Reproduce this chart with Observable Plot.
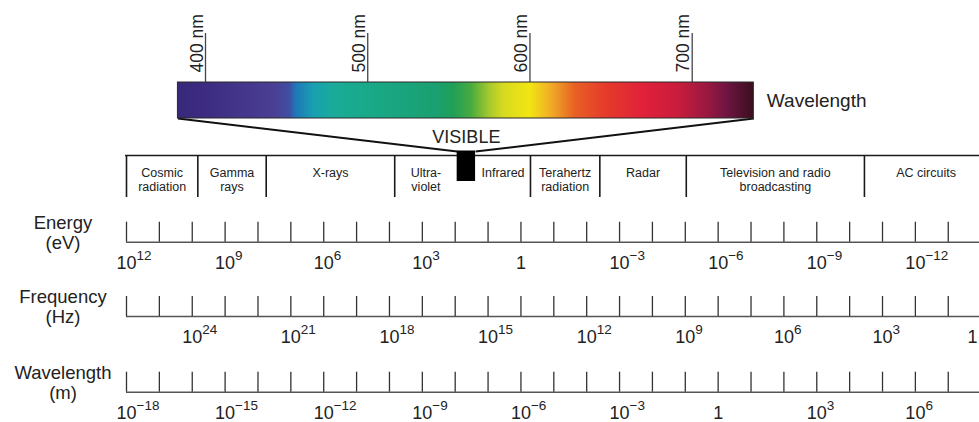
<!DOCTYPE html>
<html><head><meta charset="utf-8">
<script src="https://cdn.jsdelivr.net/npm/d3@7"></script>
<script src="https://cdn.jsdelivr.net/npm/@observablehq/plot@0.6"></script>
<style>
html,body{margin:0;padding:0;background:#fff;}
#chart{position:relative;width:979px;height:422px;overflow:hidden;}
#chart svg{position:absolute;left:0;top:0;}
</style></head><body><div id="chart"></div>
<script>
// ---------- data ----------
const nmTicks = [400, 500, 600, 700];
const spectrumRange = [383, 738];               // nm shown in the colour bar
const spectrumStopsNm = [383, 398, 443, 452, 456, 467, 479, 507, 543, 553, 564, 575, 584, 600, 614, 628, 646, 671, 692, 710, 722, 738];
const spectrumStopsColor = ["#38287a", "#3c2b80", "#4a3f93", "#3f4fa2", "#1f78b8", "#18a0b0", "#19ab98", "#19a885", "#1aa070", "#20a058", "#48aa40", "#a5c82c", "#d8da20", "#f2e612", "#f0a828", "#e86024", "#e53c2a", "#e0203a", "#c81c3c", "#981840", "#6e1442", "#3a0e1e"];

const bandNames = ["Cosmic\nradiation", "Gamma\nrays", "X-rays", "Ultra-\nviolet", "Infrared", "Terahertz\nradiation", "Radar", "Television and radio\nbroadcasting", "AC circuits"];
const bandStart = [12, 9.83, 7.75, 3.84, 1.38, -0.29, -2.40, -5.03, -10.45];   // log10(E / eV)
const bandEnd   = [9.83, 7.75, 3.84, 1.94, -0.29, -2.40, -5.03, -10.45, -14.2];
const separators = [12, 9.83, 7.75, 3.84, -0.29, -2.40, -5.03, -10.45];
const visibleBand = [1.94, 1.38];

const decadeTicks = [12, 11, 10, 9, 8, 7, 6, 5, 4, 3, 2, 1, 0, -1, -2, -3, -4, -5, -6, -7, -8, -9, -10, -11, -12, -13];
const energyExp = [12, 9, 6, 3, 0, -3, -6, -9, -12];
const frequencyExp = [24, 21, 18, 15, 12, 9, 6, 3, 0];
const wavelengthExp = [-18, -15, -12, -9, -6, -3, 0, 3, 6];
const rowNames = ["Energy\n(eV)", "Frequency\n(Hz)", "Wavelength\n(m)"];

// conversions to log10(E/eV)
const fromEnergy = n => n;
const fromFrequency = n => n - 14;   // E = h·ν
const fromWavelength = m => -6 - m;  // E = h·c / λ

// ---------- layout ----------
const W = 979, H = 422;
const FONT = "Liberation Sans, Arial, Helvetica, sans-serif";
const rowAxisY = [241.7, 316, 391.7];
const xE = {domain: [12, -13], range: [126, 126 + 25 * 32.87]};
const xN = {domain: [400, 700], range: [205, 691.7]};
const sE = Plot.scale({x: xE});
const sN = Plot.scale({x: xN});
const nmOf = e => sN.invert(sE.apply(e));

const rows = rowNames.map((name, i) => ({name, y: rowAxisY[i]}));
const ticks = rows.flatMap(r => decadeTicks.map(e => ({e, y: r.y})));
const fmt = n => (n < 0 ? "\u2212" : "") + Math.abs(n);
const labelSets = [[energyExp, fromEnergy], [frequencyExp, fromFrequency], [wavelengthExp, fromWavelength]];
const labels = labelSets.flatMap(([exps, f], i) => exps.map(n => ({
  pos: f(n), y: rowAxisY[i], base: n === 0 ? "1" : "10", sup: n === 0 ? "" : fmt(n)
})));
const inside = d => sE.apply(d.pos) + 6 <= W;
const bands = bandNames.map((name, i) => ({name, start: bandStart[i], end: bandEnd[i]}));

const common = {width: W, height: H, margin: 0, y: {domain: [0, H], range: [0, H], axis: null},
  style: {background: "transparent", fontFamily: FONT, overflow: "hidden"}};

const plotBottom = Plot.plot({
  ...common,
  x: {...xE, axis: null},
  marks: [
    // band header
    Plot.ruleY([155], {x1: 12.03, x2: -14.5, stroke: "#1a1a1a", strokeWidth: 1.6}),
    Plot.ruleX(separators, {x: d => d, y1: 155, y2: 197, stroke: "#1a1a1a", strokeWidth: 1.6}),
    Plot.rect([visibleBand], {x1: d => d[0], x2: d => d[1], y1: 150.5, y2: 181, fill: "#000"}),
    Plot.text(bands, {x: d => (d.start + d.end) / 2, y: 167, text: "name", fontSize: 12.5, lineAnchor: "top", lineHeight: 1.12, fill: "#222", fontFamily: FONT}),
    Plot.text(["VISIBLE"], {x: (visibleBand[0] + visibleBand[1]) / 2, y: 142, text: d => d, fontSize: 18, lineAnchor: "bottom", fill: "#222", fontFamily: FONT}),
    // axes
    Plot.ruleY(rows, {y: "y", x1: 12, x2: -14.5, stroke: "#555", strokeWidth: 1.5}),
    Plot.ruleX(ticks, {x: "e", y1: d => d.y - 20, y2: d => d.y, stroke: "#333", strokeWidth: 1.3}),
    Plot.text(labels.filter(inside), {x: "pos", y: d => d.y + 26.5, text: "base", fontSize: 18, textAnchor: "middle", lineAnchor: "bottom", fill: "#222", fontFamily: FONT}),
    // a label that would fall past the right edge is kept flush with it
    Plot.text(labels.filter(d => !inside(d)), {frameAnchor: "right", dx: -2, y: d => d.y + 26.5, text: "base", fontSize: 18, textAnchor: "end", lineAnchor: "bottom", fill: "#222", fontFamily: FONT}),
    Plot.text(labels.filter(d => d.sup), {x: "pos", y: d => d.y + 17.5, dx: 10, text: "sup", fontSize: 13.5, textAnchor: "start", lineAnchor: "bottom", fill: "#222", fontFamily: FONT}),
    Plot.text(rows, {frameAnchor: "left", dx: 62.5, y: d => d.y + 6.3, text: "name", fontSize: 18.5, textAnchor: "middle", lineAnchor: "bottom", lineHeight: 1.08, fill: "#222", fontFamily: FONT})
  ]
});

const trapezoid = [
  {x1: spectrumRange[0], y1: 118, x2: nmOf(visibleBand[0]), y2: 151},
  {x1: spectrumRange[1], y1: 118, x2: nmOf(visibleBand[1]), y2: 151}
];

const plotTop = Plot.plot({
  ...common,
  x: {...xN, axis: null},
  marks: [
    Plot.link(trapezoid, {x1: "x1", y1: "y1", x2: "x2", y2: "y2", stroke: "#111", strokeWidth: 2}),
    Plot.rect([spectrumRange], {x1: d => d[0], x2: d => d[1], y1: 82, y2: 118, fill: "#888", stroke: "#2a2a2a", strokeWidth: 1}),
    Plot.ruleX(nmTicks, {x: d => d, y1: 33, y2: 82, stroke: "#444", strokeWidth: 1.3}),
    Plot.text(nmTicks, {x: d => d, y: 72, dx: -3, text: d => `${d} nm`, rotate: -90, textAnchor: "start", lineAnchor: "bottom", fontSize: 17.5, fill: "#222", fontFamily: FONT}),
    Plot.text(["Wavelength"], {x: spectrumRange[1], y: 106, dx: 13, text: d => d, textAnchor: "start", lineAnchor: "bottom", fontSize: 19, fill: "#222", fontFamily: FONT})
  ]
});

// gradient for the visible spectrum
const svgTop = d3.select(plotTop);
const gx1 = sN.apply(spectrumRange[0]), gx2 = sN.apply(spectrumRange[1]);
const grad = svgTop.insert("defs", ":first-child").append("linearGradient")
  .attr("id", "spec").attr("gradientUnits", "userSpaceOnUse")
  .attr("x1", gx1).attr("x2", gx2).attr("y1", 0).attr("y2", 0);
spectrumStopsNm.forEach((nm, i) => {
  grad.append("stop").attr("offset", (sN.apply(nm) - gx1) / (gx2 - gx1)).attr("stop-color", spectrumStopsColor[i]);
});
svgTop.selectAll("g[aria-label=rect] rect").attr("fill", "url(#spec)");

const chart = document.getElementById("chart");
chart.appendChild(plotBottom);
chart.appendChild(plotTop);
</script></body></html>
